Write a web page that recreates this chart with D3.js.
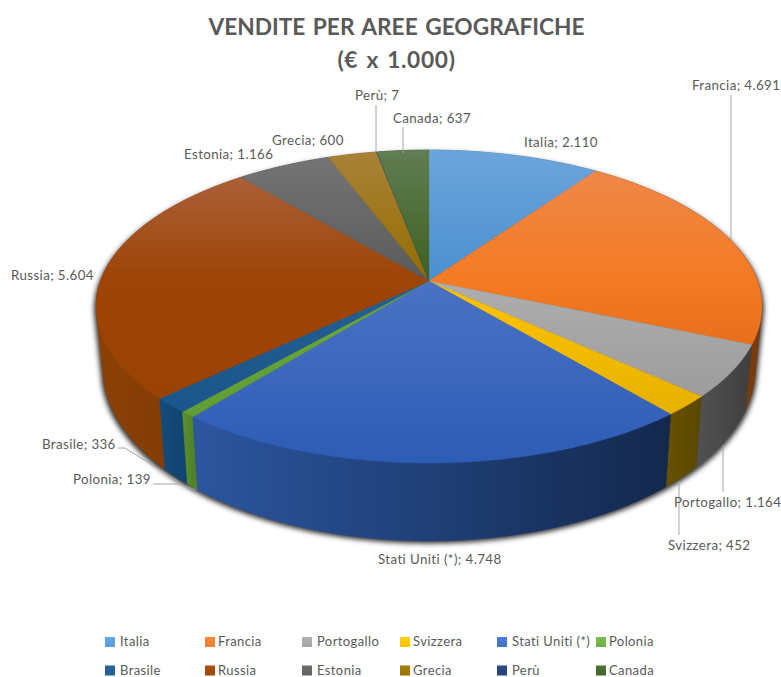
<!DOCTYPE html>
<html><head><meta charset="utf-8">
<script src="https://d3js.org/d3.v7.min.js"></script>
<style>html,body{margin:0;padding:0;background:#fff;overflow:hidden}svg{display:block}text{font-family:Lato,"Open Sans",sans-serif;fill:#595959}</style>
</head><body><div id="chart"></div>
<script>
const categories=["Italia","Francia","Portogallo","Svizzera","Stati Uniti (*)","Polonia","Brasile","Russia","Estonia","Grecia","Perù","Canada"];
const values=[2110,4691,1164,452,4748,139,336,5604,1166,600,7,637];
const colors=["#5b9bd5","#ed7d31","#a5a5a5","#ffc000","#4472c4","#70ad47","#255e91","#9e480e","#636363","#997300","#264478","#43682b"];
const faceTop=["#6ca5db","#ee8a50","#b4b4b4","#ffc800","#5078cc","#76b34c","#2d6499","#ae6745","#767676","#aa8238","#2f4f85","#617d53"];
const faceMid=["#4a8fd0","#f47a22","#aeaeae","#ffc400","#4a72c4","#6aa83f","#256093","#9e4405","#5a5a5a","#936d00","#264478","#3c6020"];
const faceLow=["#4a8fd0","#d05a10","#929292","#dcaa00","#2d5cb6","#5c9a30","#155288","#984204","#5a5a5a","#936d00","#264478","#3c6020"];
const wallLeft=["#3e72a0","#8a4210","#505050","#665000","#2c569f","#5b9030","#134c7d","#8c4106","#444444","#665000","#1a3050","#2d4a1c"];
const wallRight=["#3e72a0","#7a3a0c","#3f3f3f","#5a4700","#13284d","#4f8329","#114470","#7a3704","#444444","#665000","#1a3050","#2d4a1c"];
const titleLines=["VENDITE PER AREE GEOGRAFICHE","(€ x 1.000)"];
const labelPos=[[524,146.5],[692,90],[674,507],[668,550],[378,564],[73,484],[42,449],[11,280],[184,159],[272,145],[355,100],[393,123]];
const leaders=[null,[[731,95],[731,240]],[[723,492],[723,445]],[[679,535],[679,481]],null,[[153,484],[180,484],[196,490]],[[118,448],[125,448],[178,481]],null,null,null,[[376,105],[376,152]],[[403,127],[403,153]]];
const legendCols=[105,205,302,400,497,596];
const legendRows=[642,670.5];

const W=781,H=677,cx=429,cy=281,A=328.5,B=152.3,K=-0.163;
const svg=d3.select("#chart").append("svg").attr("width",W).attr("height",H);
const defs=svg.append("defs");
const blur=defs.append("filter").attr("id","blur").attr("x","-10%").attr("y","-10%").attr("width","120%").attr("height","120%");
blur.append("feGaussianBlur").attr("stdDeviation",2.4);

const fmt=d3.formatLocale({decimal:",",thousands:".",grouping:[3],currency:["€",""]}).format(",d");
const pie=d3.pie().sort(null).value(d=>d)(values);

function proj(t){const x=Math.sin(t),y=-Math.cos(t),d=1+K*y;return [cx+A*x/d,cy+B*y/d];}
function projB(t){const p=proj(t);return [cx+(p[0]-cx)*0.98,cy+(p[1]-cy)*1.106+58.7];}
const line=d3.line();
const arcAngles=(a,b)=>{const n=Math.max(2,Math.ceil((b-a)/0.02));return d3.range(n+1).map(i=>a+(b-a)*i/n);};

// shadow from the outline of the whole solid
const full=arcAngles(0,2*Math.PI);
const outline=d3.polygonHull(full.map(t=>proj(t)).concat(full.map(t=>projB(t))));
svg.append("path").attr("d",line(outline.map(p=>[cx+(p[0]-cx)*1.006,p[1]+2.5]))+"Z").attr("fill","#333").attr("filter","url(#blur)");

// side walls, back to front
const order=d3.range(values.length).sort((i,j)=>proj((pie[i].startAngle+pie[i].endAngle)/2)[1]-proj((pie[j].startAngle+pie[j].endAngle)/2)[1]);
order.forEach(i=>{
  const s=pie[i],ang=arcAngles(s.startAngle,s.endAngle);
  const top=ang.map(t=>proj(t)),bot=ang.map(t=>projB(t));
  const xs=top.map(p=>p[0]),id="w"+i;
  const g=defs.append("linearGradient").attr("id",id).attr("gradientUnits","userSpaceOnUse")
    .attr("x1",d3.min(xs)).attr("x2",d3.max(xs)).attr("y1",0).attr("y2",0);
  g.append("stop").attr("offset",0).attr("stop-color",wallLeft[i]);
  g.append("stop").attr("offset",1).attr("stop-color",wallRight[i]);
  svg.append("path").attr("d",line(d3.polygonHull(top.concat(bot)))+"Z").attr("fill",`url(#${id})`).attr("stroke",`url(#${id})`).attr("stroke-width",0.5);
});

// top face
categories.forEach((c,i)=>{
  const g=defs.append("linearGradient").attr("id","f"+i).attr("gradientUnits","userSpaceOnUse").attr("x1",0).attr("x2",0).attr("y1",150).attr("y2",463);
  g.append("stop").attr("offset",0).attr("stop-color",faceTop[i]);
  g.append("stop").attr("offset",.42).attr("stop-color",faceMid[i]);
  g.append("stop").attr("offset",1).attr("stop-color",faceLow[i]);
});
const slicePath=s=>line([[cx,cy]].concat(arcAngles(s.startAngle,s.endAngle).map(t=>proj(t))))+"Z";
svg.append("g").selectAll("path").data(pie).join("path").attr("d",slicePath).attr("fill",(d,i)=>`url(#f${i})`).attr("stroke",(d,i)=>`url(#f${i})`).attr("stroke-width",0.4);

// leaders
svg.append("g").selectAll("path").data(leaders.filter(Boolean)).join("path").attr("d",line).attr("fill","none").attr("stroke","#a6a6a6").attr("stroke-width",1);

// labels
svg.append("g").selectAll("text").data(categories).join("text")
  .attr("x",(d,i)=>labelPos[i][0]).attr("y",(d,i)=>labelPos[i][1])
  .attr("font-size",13.3).attr("letter-spacing",.4)
  .text((d,i)=>`${d}; ${fmt(values[i])}`);

// title
svg.append("g").selectAll("text").data(titleLines).join("text")
  .attr("x",396.5).attr("y",(d,i)=>35+i*33).attr("text-anchor","middle")
  .attr("font-size",22.7).attr("font-weight",700).attr("word-spacing",(d,i)=>i?2:2).attr("letter-spacing",(d,i)=>i?.7:0).text(d=>d);

// legend
const leg=svg.append("g").selectAll("g").data(categories).join("g")
  .attr("transform",(d,i)=>`translate(${legendCols[i%6]},${legendRows[Math.floor(i/6)]})`);
const lg=defs.selectAll("linearGradient.l").data(colors).join("linearGradient").attr("class","l").attr("id",(d,i)=>"l"+i).attr("x1",0).attr("x2",0).attr("y1",0).attr("y2",1);
lg.append("stop").attr("offset",0).attr("stop-color",d=>d3.color(d).brighter(.25));
lg.append("stop").attr("offset",1).attr("stop-color",d=>d);
leg.append("rect").attr("x",0).attr("y",-5).attr("width",10).attr("height",10).attr("fill",(d,i)=>`url(#l${i})`);
leg.append("text").attr("x",(d,i)=>i%6===0||i%6===2||i%6===4?15:13).attr("y",4).attr("font-size",13).attr("letter-spacing",.4).text(d=>d);
</script></body></html>
